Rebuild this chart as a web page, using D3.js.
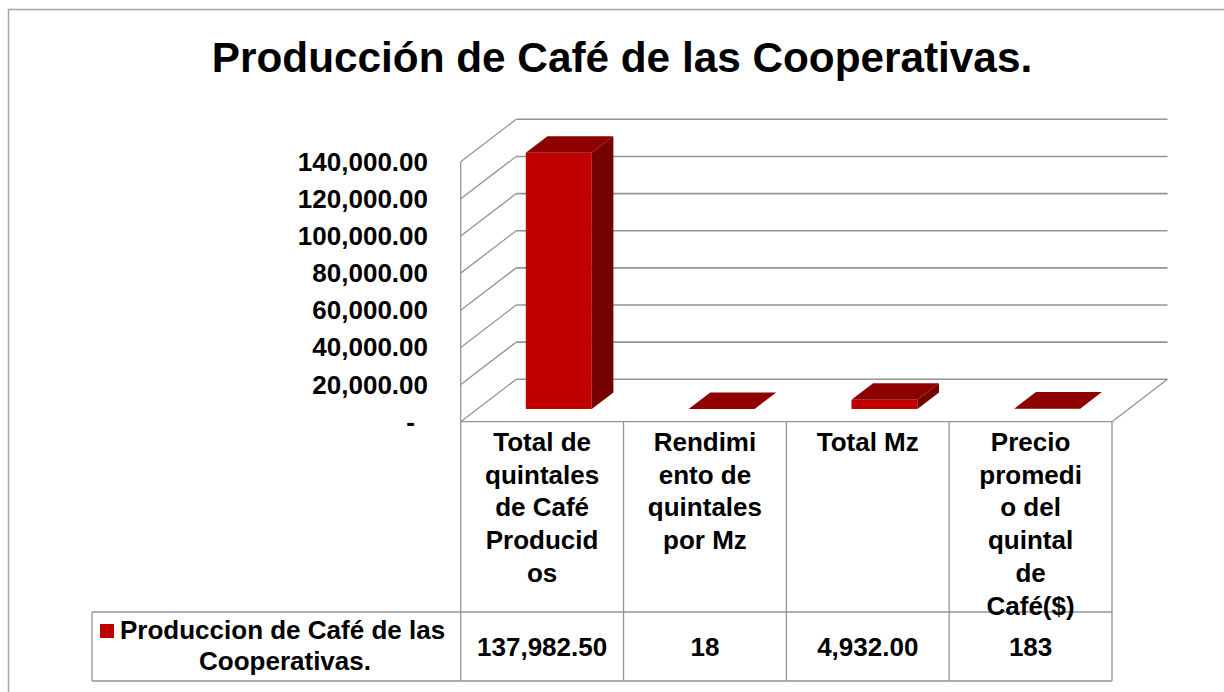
<!DOCTYPE html>
<html>
<head>
<meta charset="utf-8">
<script src="https://cdn.jsdelivr.net/npm/d3@7"></script>
<style>
  html, body { margin: 0; padding: 0; background: #fff; }
  svg { display: block; font-family: "Liberation Sans", Arial, Helvetica, sans-serif; }
</style>
</head>
<body>
<svg id="chart" width="1224" height="692"></svg>
<script>
// ---- data ----
const title = "Producción de Café de las Cooperativas.";
const seriesName = ["Produccion de Café de las", "Cooperativas."];
const categories = [
  "Total de quintales de Café Producidos",
  "Rendimiento de quintales por Mz",
  "Total Mz",
  "Precio promedio del quintal de Café($)"
];
const categoryLines = [
  ["Total de", "quintales", "de Café", "Producid", "os"],
  ["Rendimi", "ento de", "quintales", "por Mz"],
  ["Total Mz"],
  ["Precio", "promedi", "o del", "quintal", "de", "Café($)"]
];
const values = [137982.50, 18, 4932.00, 183];
const valueLabels = ["137,982.50", "18", "4,932.00", "183"];
const yTicks = [0, 20000, 40000, 60000, 80000, 100000, 120000, 140000];
const yTickLabels = ["-", "20,000.00", "40,000.00", "60,000.00", "80,000.00", "100,000.00", "120,000.00", "140,000.00"];

// ---- layout ----
const svg = d3.select("#chart");
const plotLeft = 460.7, plotRight = 1112, floorY = 421.7, topY = 161.7;
const DX = 55.5, DY = -42.4;          // depth offset of the 3D walls
const f0 = 0.30, f1 = 0.69;           // bar depth range
const barFrac = 0.405;                // bar width fraction of band
const rowY = 612, tableBottom = 681, legendLeft = 92;
const grid = "#949494";
const fs = 26;

const x = d3.scaleBand().domain(categories).range([plotLeft, plotRight]).padding(0);
const y = d3.scaleLinear().domain([0, 140000]).range([floorY, topY]);

// outer frame
svg.append("path").attr("d", `M8.5,${692 + 5} V9.5 H${1224 + 5}`)
  .attr("fill", "none").attr("stroke", "#a6a6a6").attr("stroke-width", 1.5);

// title
svg.append("text").attr("x", 622).attr("y", 72).attr("text-anchor", "middle")
  .attr("font-size", 42.3).attr("font-weight", "bold").attr("fill", "#000").text(title);

// back wall gridlines
const g = svg.append("g");
g.selectAll("line.grid").data(yTicks).join("line").attr("class", "grid")
  .attr("x1", plotLeft + DX).attr("x2", plotRight + DX)
  .attr("y1", d => y(d) + DY).attr("y2", d => y(d) + DY)
  .attr("stroke", grid).attr("stroke-width", 1.6);
// side wall diagonals
g.selectAll("line.diag").data(yTicks).join("line").attr("class", "diag")
  .attr("x1", plotLeft).attr("y1", d => y(d))
  .attr("x2", plotLeft + DX).attr("y2", d => y(d) + DY)
  .attr("stroke", grid).attr("stroke-width", 1.3);
// floor right edge
g.append("line").attr("x1", plotRight).attr("y1", y(0)).attr("x2", plotRight + DX).attr("y2", y(0) + DY)
  .attr("stroke", grid).attr("stroke-width", 1.3);
// front vertical axis line
g.append("line").attr("x1", plotLeft).attr("x2", plotLeft).attr("y1", y(140000)).attr("y2", tableBottom)
  .attr("stroke", grid).attr("stroke-width", 1.3);

// y tick labels
svg.append("g").selectAll("text").data(yTicks).join("text")
  .attr("x", (d, i) => i === 0 ? 415 : 428)
  .attr("y", d => y(d) + 9)
  .attr("text-anchor", "end").attr("font-size", fs).attr("font-weight", "bold").attr("fill", "#000")
  .text((d, i) => yTickLabels[i]);

// 3D bars
const bars = svg.append("g");
values.forEach((v, i) => {
  const bw = x.bandwidth() * barFrac;
  const bx0 = x(categories[i]) + (x.bandwidth() - bw) / 2 + f0 * DX;
  const bx1 = bx0 + bw;
  const yb = y(0) + f0 * DY;
  const yt = y(v) + f0 * DY;
  const ddx = (f1 - f0) * DX, ddy = (f1 - f0) * DY;
  if (yb - yt > 0.5) {
    bars.append("rect").attr("x", bx0).attr("y", yt).attr("width", bw).attr("height", yb - yt)
      .attr("fill", "#c00000");
    bars.append("path").attr("d", `M${bx1},${yt} L${bx1 + ddx},${yt + ddy} L${bx1 + ddx},${yb + ddy} L${bx1},${yb} Z`)
      .attr("fill", "#750000");
  }
  bars.append("path").attr("d", `M${bx0},${yt} L${bx1},${yt} L${bx1 + ddx},${yt + ddy} L${bx0 + ddx},${yt + ddy} Z`)
    .attr("fill", "#8e0000");
});

// data table
const t = svg.append("g").attr("stroke", grid).attr("stroke-width", 1.3);
t.append("line").attr("x1", plotLeft).attr("x2", plotRight).attr("y1", floorY).attr("y2", floorY);
t.append("line").attr("x1", legendLeft).attr("x2", plotRight).attr("y1", rowY).attr("y2", rowY);
t.append("line").attr("x1", legendLeft).attr("x2", plotRight).attr("y1", tableBottom).attr("y2", tableBottom);
t.append("line").attr("x1", legendLeft).attr("x2", legendLeft).attr("y1", rowY).attr("y2", tableBottom);
t.selectAll("line.col").data(categories).join("line").attr("class", "col")
  .attr("x1", d => x(d) + x.bandwidth()).attr("x2", d => x(d) + x.bandwidth())
  .attr("y1", floorY).attr("y2", tableBottom);

// category labels
const cl = svg.append("g").attr("font-size", fs).attr("font-weight", "bold").attr("fill", "#000")
  .attr("text-anchor", "middle");
categories.forEach((c, i) => {
  categoryLines[i].forEach((line, j) => {
    cl.append("text").attr("x", x(c) + x.bandwidth() / 2).attr("y", 451 + j * 32.7).text(line);
  });
});

// values row
svg.append("g").selectAll("text").data(categories).join("text")
  .attr("x", d => x(d) + x.bandwidth() / 2).attr("y", 656)
  .attr("text-anchor", "middle").attr("font-size", fs).attr("font-weight", "bold").attr("fill", "#000")
  .text((d, i) => valueLabels[i]);

// legend key
svg.append("rect").attr("x", 100).attr("y", 624).attr("width", 14).attr("height", 14).attr("fill", "#c00000");
svg.append("text").attr("x", 120).attr("y", 639).attr("font-size", fs).attr("font-weight", "bold")
  .attr("fill", "#000").text(seriesName[0]);
svg.append("text").attr("x", 285).attr("y", 670).attr("text-anchor", "middle").attr("font-size", fs)
  .attr("font-weight", "bold").attr("fill", "#000").text(seriesName[1]);
</script>
</body>
</html>
